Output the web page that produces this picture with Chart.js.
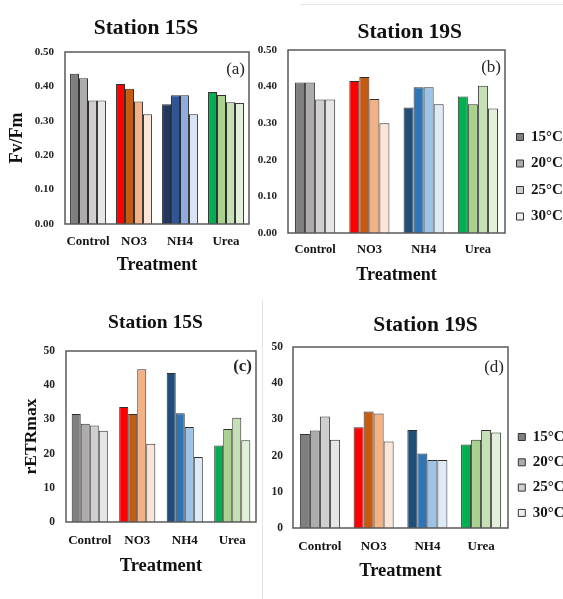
<!DOCTYPE html>
<html><head><meta charset="utf-8">
<script src="https://cdn.jsdelivr.net/npm/chart.js@4.4.1/dist/chart.umd.min.js"></script>
<style>
html,body{margin:0;padding:0;background:#fff;width:563px;height:599px;overflow:hidden;position:relative}
canvas{position:absolute}
.rule{position:absolute;background:#e4e4e4}
</style></head><body>
<div class="rule" style="left:300px;top:4px;width:263px;height:1px"></div>
<div class="rule" style="left:262px;top:300px;width:1px;height:299px"></div>
<canvas id="ca" width="262" height="280" style="left:0;top:0"></canvas>
<canvas id="cb" width="313" height="290" style="left:250px;top:0"></canvas>
<canvas id="cc" width="262" height="309" style="left:0;top:290px"></canvas>
<canvas id="cd" width="313" height="299" style="left:250px;top:300px"></canvas>
<script>
// ---- data ----
const categories = ['Control', 'NO3', 'NH4', 'Urea'];
const temperatures = ['15°C', '20°C', '25°C', '30°C'];
const fvfmTicks = [0, 0.1, 0.2, 0.3, 0.4, 0.5];
const retrTicks = [0, 10, 20, 30, 40, 50];

// (a) Station 15S, Fv/Fm
const fvfm15S_15C = [0.437, 0.407, 0.348, 0.384];
const fvfm15S_20C = [0.424, 0.393, 0.374, 0.375];
const fvfm15S_25C = [0.359, 0.356, 0.374, 0.354];
const fvfm15S_30C = [0.359, 0.319, 0.319, 0.352];
// (b) Station 19S, Fv/Fm
const fvfm19S_15C = [0.411, 0.415, 0.343, 0.373];
const fvfm19S_20C = [0.411, 0.426, 0.398, 0.352];
const fvfm19S_25C = [0.365, 0.366, 0.398, 0.402];
const fvfm19S_30C = [0.365, 0.300, 0.352, 0.340];
// (c) Station 15S, rETRmax
const retr15S_15C = [31.6, 33.6, 43.6, 22.4];
const retr15S_20C = [28.7, 31.6, 31.8, 27.2];
const retr15S_25C = [28.2, 44.7, 27.8, 30.5];
const retr15S_30C = [26.7, 22.9, 19.0, 23.9];
// (d) Station 19S, rETRmax
const retr19S_15C = [26.0, 27.8, 27.1, 23.1];
const retr19S_20C = [26.9, 32.2, 20.6, 24.4];
const retr19S_25C = [30.8, 31.6, 18.8, 27.1];
const retr19S_30C = [24.4, 23.9, 18.8, 26.4];

// ---- colours (per treatment, per temperature) ----
const controlColors = ['#7f7f7f', '#aeabab', '#d0cece', '#e7e6e6'];
const no3Colors = ['#ff0000', '#c55a11', '#f4b183', '#fbe5d6'];
const nh4ColorsA = ['#1f3864', '#2f5597', '#8faadc', '#dae3f3'];
const nh4Colors = ['#1f4e79', '#2e75b6', '#9dc3e6', '#deebf7'];
const ureaColors = ['#00b050', '#a9d18e', '#c5e0b4', '#e2f0d9'];
const legendColors = ['#7f7f7f', '#aeabab', '#d0cece', '#efefef'];

Chart.defaults.font.family = '"Liberation Serif", "Times New Roman", serif';
Chart.defaults.font.weight = 'bold';
Chart.defaults.color = '#151515';

const framePlugin = {
  id: 'panelFrame',
  afterLayout(chart, args, opts) {
    const t = chart.titleBlock;
    if (t && opts.titleX != null) {
      const dx = opts.titleX - (t.left + t.right) / 2;
      t.left += dx; t.right += dx;
    }
  },
  afterDatasetsDraw(chart, args, opts) {
    const {ctx, chartArea: a} = chart;
    ctx.save();
    ctx.strokeStyle = '#5a5a5a';
    ctx.lineWidth = 1.5;
    ctx.strokeRect(a.left, a.top, a.right - a.left, a.bottom - a.top);
    ctx.fillStyle = '#262626';
    ctx.font = (opts.bold ? 'bold ' : '') + '17px "Liberation Serif", serif';
    ctx.textAlign = 'right';
    ctx.textBaseline = 'middle';
    ctx.fillText(opts.tag, a.right - 4, a.top + opts.dy);
    ctx.restore();
  }
};

function makePanel(id, p) {
  const palettes = [controlColors, no3Colors, p.nh4, ureaColors];
  const datasets = p.series.map((vals, ti) => ({
    label: temperatures[ti],
    data: vals,
    backgroundColor: palettes.map(pl => pl[ti]),
    borderColor: '#2f2f2f',
    borderWidth: 1,
    barPercentage: 1,
    categoryPercentage: p.catPct
  }));
  return new Chart(document.getElementById(id), {
    type: 'bar',
    data: {labels: categories, datasets},
    plugins: [framePlugin],
    options: {
      responsive: false,
      animation: false,
      devicePixelRatio: 1,
      layout: {padding: p.pad},
      plugins: {
        title: {display: true, text: p.title, font: {size: p.titleSize, weight: 'bold'}, color: '#111',
                padding: {top: p.tTop, bottom: p.tBot}},
        legend: p.legend ? {
          display: true, position: 'right', align: 'start', fullSize: true, maxWidth: p.legend.w,
          title: {display: true, text: ' ', font: {size: 1}, padding: {top: p.legend.tPad, bottom: 0}},
          labels: {
            boxWidth: 7, boxHeight: 7, padding: p.legend.pad, color: '#151515',
            font: {size: 15, weight: 'bold'},
            generateLabels: () => temperatures.map((t, i) => ({
              text: t, fillStyle: legendColors[i], strokeStyle: '#333', lineWidth: 1,
              hidden: false, datasetIndex: i
            }))
          }
        } : {display: false},
        tooltip: {enabled: false},
        panelFrame: {tag: p.tag, dy: p.tagDy, bold: p.tagBold, titleX: p.titleX}
      },
      scales: {
        x: {
          grid: {display: false, drawTicks: false},
          border: {display: false},
          ticks: {font: {size: p.xTickSize, weight: 'bold'}, padding: p.xTickPad, color: '#151515',
                  maxRotation: 0, autoSkip: false},
          title: {display: true, text: 'Treatment', font: {size: p.xTitleSize, weight: 'bold'}, color: '#111',
                  padding: {top: 0, bottom: p.xTitlePadB}},
          afterFit: s => { s.height = p.xHeight; }
        },
        y: {
          min: p.ticks[0], max: p.ticks[p.ticks.length - 1],
          grid: {display: false, drawTicks: false},
          border: {display: false},
          afterBuildTicks: s => { s.ticks = p.ticks.map(v => ({value: v})); },
          ticks: {font: {size: p.yTickSize, weight: 'bold'}, padding: p.yTickPad, color: '#222',
                  autoSkip: false, callback: v => Number(v).toFixed(p.decimals)},
          title: p.yTitle ? {display: true, text: p.yTitle, font: {size: p.yTitleSize, weight: 'bold'}, color: '#111',
                  padding: {top: p.yTitlePadT, bottom: 0}} : {display: false},
          afterFit: s => { s.width = p.yWidth; }
        }
      }
    }
  });
}

makePanel('ca', {
  series: [fvfm15S_15C, fvfm15S_20C, fvfm15S_25C, fvfm15S_30C], nh4: nh4ColorsA, catPct: 0.78,
  ticks: fvfmTicks, decimals: 2,
  pad: {left: 0, right: 13, top: 0, bottom: 0},
  title: 'Station 15S', titleX: 146, titleSize: 21.5, tTop: 15.1, tBot: 11.1,
  yTitle: 'Fv/Fm', yTitleSize: 18, yTitlePadT: 6.2, yWidth: 65, yTickSize: 11, yTickPad: 11,
  xTickSize: 13, xTickPad: 10.2, xHeight: 56, xTitleSize: 18, xTitlePadB: 4.2,
  legend: null, tag: '(a)', tagDy: 18, tagBold: false
});
makePanel('cb', {
  series: [fvfm19S_15C, fvfm19S_20C, fvfm19S_25C, fvfm19S_30C], nh4: nh4Colors, catPct: 0.74,
  ticks: fvfmTicks, decimals: 2,
  pad: {left: 0, right: 0, top: 0, bottom: 0},
  title: 'Station 19S', titleX: 159.7, titleSize: 21.5, tTop: 19.1, tBot: 5.1,
  yTitle: null, yWidth: 38, yTickSize: 11, yTickPad: 11,
  xTickSize: 12.5, xTickPad: 9.5, xHeight: 57, xTitleSize: 18, xTitlePadB: 4.2,
  legend: {w: 58, pad: 11.5, tPad: 116.8}, tag: '(b)', tagDy: 18, tagBold: false
});
makePanel('cc', {
  series: [retr15S_15C, retr15S_20C, retr15S_25C, retr15S_30C], nh4: nh4Colors, catPct: 0.76,
  ticks: retrTicks, decimals: 0,
  pad: {left: 0, right: 6, top: 0, bottom: 0},
  title: 'Station 15S', titleX: 155.5, titleSize: 19.5, tTop: 21.3, tBot: 16.3,
  yTitle: 'rETRmax', yTitleSize: 17.5, yTitlePadT: 20.5, yWidth: 66, yTickSize: 11.5, yTickPad: 11,
  xTickSize: 13, xTickPad: 10.9, xHeight: 77, xTitleSize: 18.5, xTitlePadB: 21.2,
  legend: null, tag: '(c)', tagDy: 16, tagBold: true
});
makePanel('cd', {
  series: [retr19S_15C, retr19S_20C, retr19S_25C, retr19S_30C], nh4: nh4Colors, catPct: 0.745,
  ticks: retrTicks, decimals: 0,
  pad: {left: 0, right: 0, top: 0, bottom: 0},
  title: 'Station 19S', titleX: 175.5, titleSize: 21.5, tTop: 12.1, tBot: 9.1,
  yTitle: null, yWidth: 43, yTickSize: 11.5, yTickPad: 10,
  xTickSize: 13, xTickPad: 10.9, xHeight: 71, xTitleSize: 18.5, xTitlePadB: 16.2,
  legend: {w: 55, pad: 10.3, tPad: 118}, tag: '(d)', tagDy: 21, tagBold: false
});
</script>
</body></html>
